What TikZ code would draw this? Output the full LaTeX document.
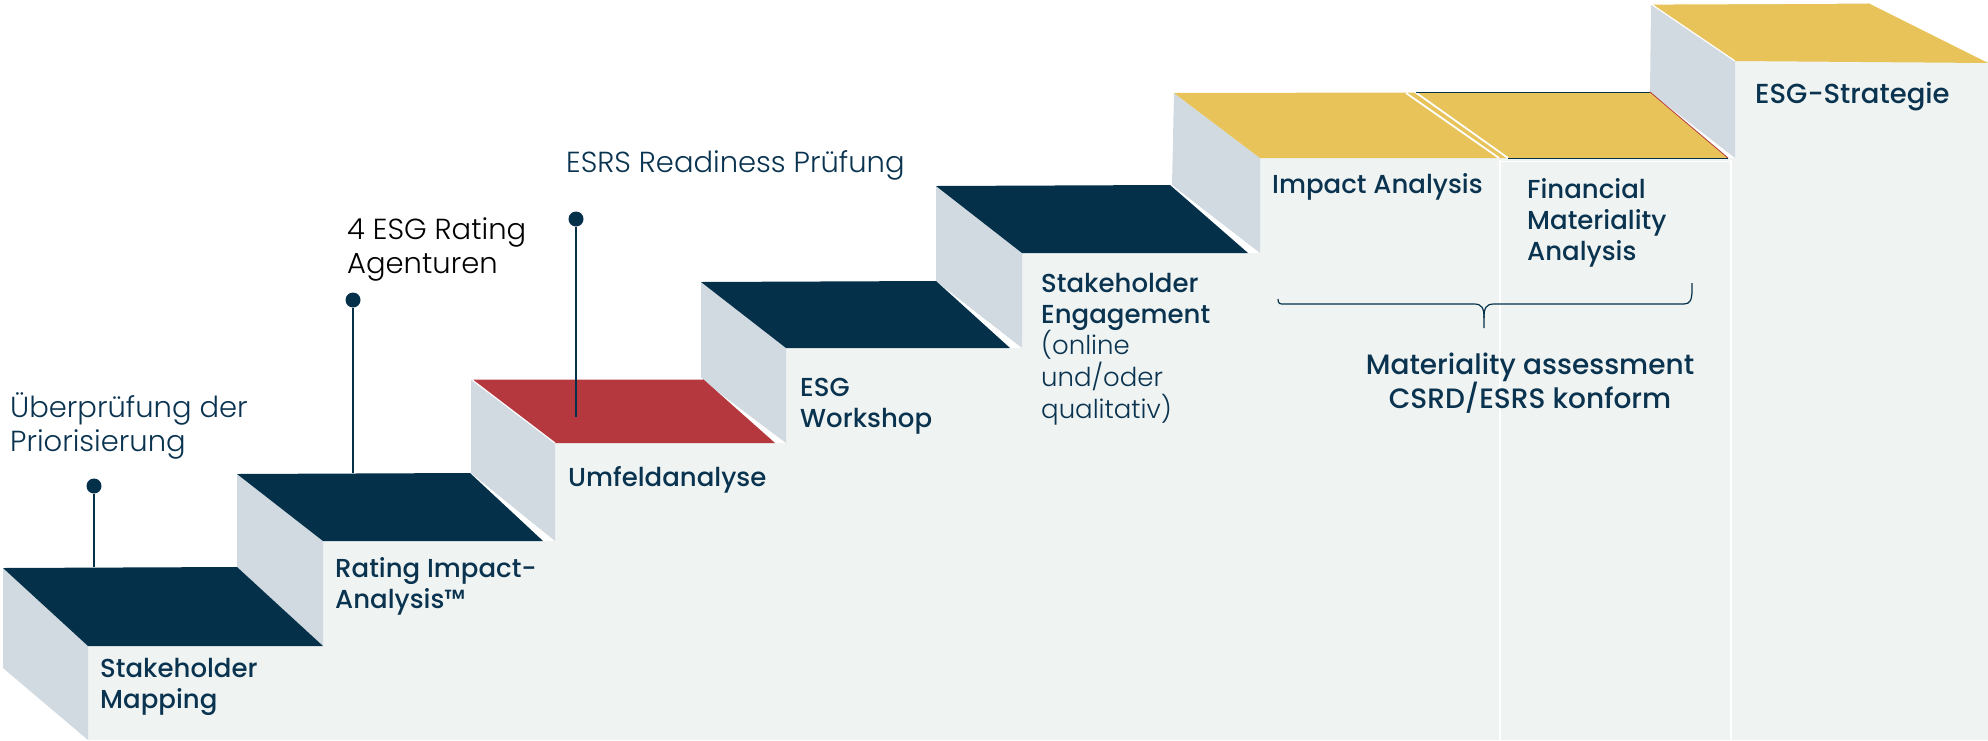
\documentclass[tikz,border=0pt]{standalone}
\usepackage{fontspec}
\setmainfont{Poppins}
\IfFontExistsTF{Poppins Medium}{\newfontfamily\labfont{Poppins Medium}}{\newfontfamily\labfont{Poppins}}
\IfFontExistsTF{Poppins Light}{\newfontfamily\annfont{Poppins Light}}{\newfontfamily\annfont{Poppins}}
\definecolor{navy}{HTML}{04304A}
\definecolor{txt}{HTML}{0A3350}
\definecolor{stepred}{HTML}{B5383F}
\definecolor{gold}{HTML}{E8C35A}
\definecolor{side}{HTML}{D1DAE0}
\definecolor{front}{HTML}{EFF3F2}
\tikzset{
  lab/.style={inner sep=0pt, anchor=base west, align=left, text=txt, font=\labfont\fontsize{26}{31}\selectfont},
  ann/.style={inner sep=0pt, anchor=base west, align=left, text=txt, font=\annfont\fontsize{29}{34}\selectfont},
  pin/.style={circle, fill=navy, inner sep=0pt, minimum size=15pt},
  pinline/.style={draw=navy, line width=1.6pt},
  sideface/.style={fill=side},
  topnavy/.style={fill=navy},
  topred/.style={fill=stepred},
  topgold/.style={fill=gold},
  edgehl/.style={draw=white, line width=1.2pt},
}
\begin{document}
\begin{tikzpicture}[x=1pt,y=-1pt]
\useasboundingbox (0,0) rectangle (1988,740);
% front faces
\fill[front] (88,740) -- (88,646) -- (323,646) -- (323,541) -- (555,541) -- (555,443) -- (786,443) -- (786,348) -- (1022,348) -- (1022,253) -- (1260,253) -- (1260,158) -- (1735,158) -- (1735,61) -- (1988,61) -- (1988,740) -- cycle;
% side faces
\fill[sideface] (3,568) -- (88,646) -- (88,740) -- (3,668) -- cycle;
\fill[sideface] (237,474) -- (323,541) -- (323,646) -- (237,567) -- cycle;
\fill[sideface] (471,379) -- (555,443) -- (555,541) -- (471,473) -- cycle;
\fill[sideface] (701,282) -- (786,348) -- (786,443) -- (701,379) -- cycle;
\fill[sideface] (936,186) -- (1022,253) -- (1022,348) -- (936,281) -- cycle;
\fill[sideface] (1174,93) -- (1260,158) -- (1260,253) -- (1172,185) -- cycle;
\fill[sideface] (1651,4) -- (1735,61) -- (1735,158) -- (1650,92) -- cycle;
% tops
\fill[topnavy] (3,568) -- (237,567) -- (323,646) -- (88,646) -- cycle;
\fill[topnavy] (237,474) -- (470,473) -- (543,541) -- (323,541) -- cycle;
\fill[topred] (471,379) -- (703,379) -- (775,443) -- (555,443) -- cycle;
\draw[edgehl] (555,443) -- (471,379) -- (703,379);
\fill[topnavy] (701,282) -- (936,281) -- (1010,348) -- (786,348) -- cycle;
\fill[topnavy] (936,186) -- (1170,185) -- (1248,253) -- (1022,253) -- cycle;
\fill[topgold] (1174,93) -- (1650,92) -- (1728,158) -- (1260,158) -- cycle;
\draw[white, line width=1.8pt] (1406,93) -- (1499,158);
\draw[white, line width=1.8pt] (1415,92) -- (1508,158);
\draw[navy, line width=0.8pt] (1416,92) -- (1650,92);
\draw[stepred, line width=0.8pt] (1650,92) -- (1728,158);
\draw[navy, line width=0.8pt] (1508,158) -- (1728,158);
\fill[topgold] (1651,4) -- (1868,3) -- (1988,63) -- (1735,61) -- cycle;
\draw[edgehl] (1735,61) -- (1651,4) -- (1868,3);
% white separators
\draw[white, line width=2pt] (1500,160) -- (1500,740);
\draw[white, line width=2pt] (1731,160) -- (1731,740);
\draw[white, line width=1pt] (1500,161) -- (1731,161);
% step labels (anchor = baseline of last line)
\node[lab] (l1) at (100,708) {Stakeholder\\Mapping};
\node[lab] (l2) at (335,608) {Rating Impact-\\Analysis™};
\node[lab] (l3) at (568,486) {Umfeldanalyse};
\node[lab] (l4) at (800,427) {ESG\\Workshop};
\node[lab] (l5) at (1041,323) {Stakeholder\\Engagement};
\node[lab, font=\annfont\fontsize{26}{32}\selectfont] (l5b) at (1041,418) {(online\\und/oder\\qualitativ)};
\node[lab] (l6) at (1272,193) {Impact Analysis};
\node[lab] (l7) at (1527,260) {Financial\\Materiality\\Analysis};
\node[lab, font=\labfont\fontsize{27.5}{31}\selectfont] (l8) at (1755,103) {ESG-Strategie};
\node[lab, anchor=base, align=center, font=\labfont\fontsize{28}{34}\selectfont] (l9) at (1530,408) {Materiality assessment\\CSRD/ESRS konform};
% brace
\draw[navy, line width=1.2pt] (1278,299) .. controls (1278,304) and (1280,304) .. (1284,304) -- (1474,304) .. controls (1482,304) and (1484,308) .. (1484,318) -- (1484,328);
\draw[navy, line width=1.2pt] (1484,318) .. controls (1484,308) and (1486,304) .. (1494,304) -- (1684,304) .. controls (1690,304) and (1692,300) .. (1692,290) -- (1692,283);
% annotations
\node[ann] (a1) at (10,451) {Überprüfung der\\Priorisierung};
\node[ann, text=black] (a2) at (347,273) {4 ESG Rating\\Agenturen};
\node[ann] (a3) at (566,172) {ESRS Readiness Prüfung};
\node[pin] (p1) at (94,486) {};
\node[pin] (p2) at (353,300) {};
\node[pin] (p3) at (576,219) {};
\coordinate (c1) at (94,567);
\coordinate (c2) at (353,473);
\coordinate (c3) at (576,417);
\draw[pinline] (p1) -- (c1);
\draw[pinline] (p2) -- (c2);
\draw[pinline] (p3) -- (c3);
\end{tikzpicture}
\end{document}
